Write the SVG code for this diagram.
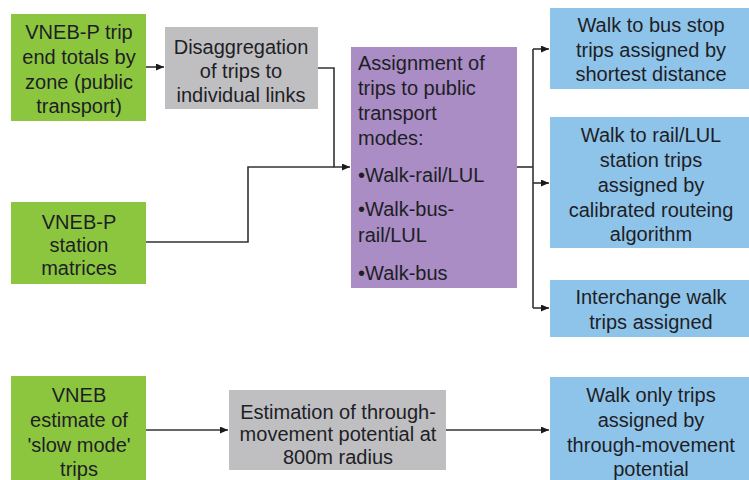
<svg xmlns="http://www.w3.org/2000/svg" width="749" height="480" viewBox="0 0 749 480">
<defs>
<marker id="arr" markerWidth="8" markerHeight="7" refX="8" refY="3.5" orient="auto" markerUnits="userSpaceOnUse">
<path d="M0,0 L8,3.5 L0,7 z" fill="#1a1a1a"/>
</marker>
<style>
.green{fill:#8cc63f}
.gray{fill:#bfbfc1}
.purple{fill:#a98dc4}
.blue{fill:#8fc4ea}
text{font-family:"Liberation Sans",Arial,sans-serif;font-size:20px;fill:#1e1e26}
.c{text-anchor:middle}
.ln{fill:none;stroke:#333;stroke-width:1.6}
.ar{marker-end:url(#arr)}
</style>
</defs>
<rect width="749" height="480" fill="#ffffff"/>

<g id="connectors">
<path class="ln ar" d="M146,67 H164"/>
<path class="ln ar" d="M318,68 H334 V167 H350"/>
<path class="ln" d="M146,242 H248 V167 H334"/>
<path class="ln" d="M517,167 H533"/>
<path class="ln" d="M533,49 V308"/>
<path class="ln ar" d="M533,49 H549"/>
<path class="ln ar" d="M533,183 H549"/>
<path class="ln ar" d="M533,308 H549"/>
<path class="ln ar" d="M146,430 H228"/>
<path class="ln ar" d="M446,430 H549"/>
</g>

<g id="n-vnebp-trip">
<rect class="green" x="11" y="14" width="135" height="107"/>
<text class="c"><tspan x="79" y="39">VNEB-P trip</tspan><tspan x="79" y="64">end totals by</tspan><tspan x="79" y="89">zone (public</tspan><tspan x="79" y="113">transport)</tspan></text>
</g>

<g id="n-disagg">
<rect class="gray" x="165" y="27" width="153" height="82"/>
<text class="c"><tspan x="241" y="54">Disaggregation</tspan><tspan x="241" y="78">of trips to</tspan><tspan x="241" y="102">individual links</tspan></text>
</g>

<g id="n-vnebp-station">
<rect class="green" x="11" y="202" width="135" height="82"/>
<text class="c"><tspan x="79" y="229">VNEB-P</tspan><tspan x="79" y="252">station</tspan><tspan x="79" y="275">matrices</tspan></text>
</g>

<g id="n-assign">
<rect class="purple" x="351" y="47" width="166" height="241"/>
<text><tspan x="358" y="70">Assignment of</tspan><tspan x="358" y="95">trips to public</tspan><tspan x="358" y="120">transport</tspan><tspan x="358" y="145">modes:</tspan><tspan x="358" y="182">•Walk-rail/LUL</tspan><tspan x="358" y="216">•Walk-bus-</tspan><tspan x="358" y="242">rail/LUL</tspan><tspan x="358" y="280">•Walk-bus</tspan></text>
</g>

<g id="n-bus">
<rect class="blue" x="550" y="8" width="199" height="81"/>
<text class="c"><tspan x="651" y="32">Walk to bus stop</tspan><tspan x="651" y="57">trips assigned by</tspan><tspan x="651" y="81">shortest distance</tspan></text>
</g>

<g id="n-rail">
<rect class="blue" x="550" y="117" width="199" height="131"/>
<text class="c"><tspan x="651" y="142">Walk to rail/LUL</tspan><tspan x="651" y="167">station trips</tspan><tspan x="651" y="192">assigned by</tspan><tspan x="651" y="217">calibrated routeing</tspan><tspan x="651" y="241">algorithm</tspan></text>
</g>

<g id="n-interchange">
<rect class="blue" x="550" y="280" width="199" height="57"/>
<text class="c"><tspan x="651" y="304">Interchange walk</tspan><tspan x="651" y="329">trips assigned</tspan></text>
</g>

<g id="n-vneb-slow">
<rect class="green" x="11" y="376" width="135" height="104"/>
<text class="c"><tspan x="79" y="402">VNEB</tspan><tspan x="79" y="427">estimate of</tspan><tspan x="79" y="452">'slow mode'</tspan><tspan x="79" y="476">trips</tspan></text>
</g>

<g id="n-estimation">
<rect class="gray" x="229" y="390" width="217" height="80"/>
<text class="c"><tspan x="338" y="419">Estimation of through-</tspan><tspan x="338" y="441">movement potential at</tspan><tspan x="338" y="464">800m radius</tspan></text>
</g>

<g id="n-walkonly">
<rect class="blue" x="550" y="377" width="199" height="103"/>
<text class="c"><tspan x="651" y="402">Walk only trips</tspan><tspan x="651" y="427">assigned by</tspan><tspan x="651" y="452">through-movement</tspan><tspan x="651" y="476">potential</tspan></text>
</g>
</svg>
